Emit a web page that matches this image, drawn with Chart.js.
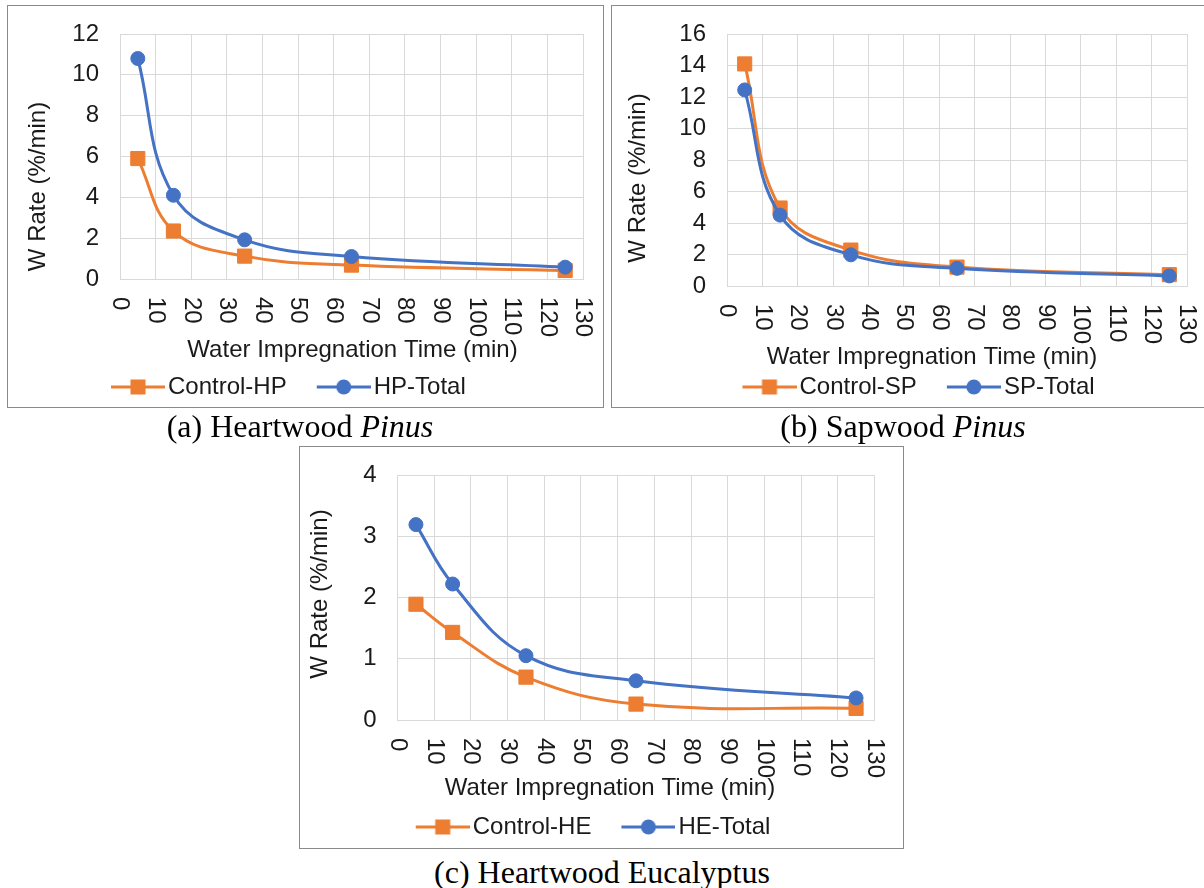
<!DOCTYPE html>
<html><head><meta charset="utf-8">
<script src="https://cdn.jsdelivr.net/npm/chart.js@4.4.1/dist/chart.umd.min.js"></script>
<style>
html,body{margin:0;padding:0;background:#fff;}
body{width:1204px;height:888px;overflow:hidden;position:relative;}
.box{position:absolute;border:1px solid #8a8a8a;box-sizing:border-box;background:#fff;}
.cv{position:absolute;}
.cap{position:absolute;font-family:"Liberation Serif","Times New Roman",serif;font-size:32px;color:#000;text-align:center;white-space:nowrap;line-height:36px;width:600px;}
</style></head><body>

<div class="box" style="left:7px;top:5px;width:597px;height:403px;"></div>
<div class="box" style="left:611px;top:5px;width:700px;height:403px;"></div>
<div class="box" style="left:299px;top:446px;width:605px;height:403px;"></div>

<canvas id="cA" class="cv"></canvas>
<canvas id="cB" class="cv"></canvas>
<canvas id="cC" class="cv"></canvas>

<div class="cap" style="left:0px;top:408px;">(a) Heartwood <i>Pinus</i></div>
<div class="cap" style="left:603px;top:408px;">(b) Sapwood <i>Pinus</i></div>
<div class="cap" style="left:302px;top:854px;">(c) Heartwood Eucalyptus</div>

<script>
// ---------------- data ----------------
const timeMin = [5, 15, 35, 65, 125];

const controlHP = [5.9, 2.35, 1.12, 0.68, 0.42];
const totalHP   = [10.8, 4.1, 1.92, 1.1, 0.58];

const controlSP = [14.1, 4.95, 2.28, 1.2, 0.72];
const totalSP   = [12.45, 4.5, 1.98, 1.12, 0.64];

const controlHE = [1.89, 1.43, 0.70, 0.26, 0.19];
const totalHE   = [3.19, 2.22, 1.05, 0.64, 0.36];

const xTickValues = [0,10,20,30,40,50,60,70,80,90,100,110,120,130];
const yTicksA = [0,2,4,6,8,10,12];
const yTicksB = [0,2,4,6,8,10,12,14,16];
const yTicksC = [0,1,2,3,4];

const labelsA = ['Control-HP', 'HP-Total'];
const labelsB = ['Control-SP', 'SP-Total'];
const labelsC = ['Control-HE', 'HE-Total'];

const xTitle = 'Water Impregnation Time (min)';
const yTitle = 'W Rate (%/min)';

// ---------------- styles ----------------
const ORANGE = '#ED7D31';
const BLUE = '#4472C4';
const TEXT = '#1a1a1a';
const GRID = '#d9d9d9';
const FONT = '"Liberation Sans", Arial, sans-serif';

function legendIcon(color, shape) {
  const W = 65 + 18, H = 20, L = 54;
  const c = document.createElement('canvas');
  c.width = W; c.height = H;
  const g = c.getContext('2d');
  g.strokeStyle = color; g.lineWidth = 3;
  g.beginPath(); g.moveTo(W - L, H/2); g.lineTo(W, H/2); g.stroke();
  g.fillStyle = color;
  const cx = W - L/2;
  if (shape === 'rect') { g.fillRect(cx - 7.5, H/2 - 7.5, 15, 15); }
  else { g.beginPath(); g.arc(cx, H/2, 7.5, 0, Math.PI*2); g.fill(); }
  return c;
}

const customText = {
  id: 'customText',
  afterDraw(chart, args, o) {
    const ctx = chart.ctx, xs = chart.scales.x, ys = chart.scales.y, area = chart.chartArea;
    ctx.save();
    ctx.fillStyle = TEXT;
    ctx.font = '24px ' + FONT;
    ctx.textBaseline = 'middle';
    // x tick labels, rotated clockwise
    ctx.textAlign = 'left';
    xs.ticks.forEach(t => {
      const px = xs.getPixelForValue(t.value);
      ctx.save();
      ctx.translate(px, area.bottom + o.gap);
      ctx.rotate(Math.PI / 2);
      ctx.fillText(String(t.value), 0, 0);
      ctx.restore();
    });
    // y tick labels
    ctx.textAlign = 'right';
    ys.ticks.forEach(t => {
      ctx.fillText(String(t.value), area.left - o.ypad, ys.getPixelForValue(t.value));
    });
    // x title
    ctx.textAlign = 'center';
    ctx.fillText(o.xTitle, (area.left + area.right) / 2 + o.xTitleDx, area.bottom + o.xTitleDy);
    // y title
    ctx.save();
    ctx.translate(o.titleX, (area.top + area.bottom) / 2 + o.titleDy);
    ctx.rotate(-Math.PI / 2);
    ctx.fillText(o.yTitle, 0, 0);
    ctx.restore();
    ctx.restore();
  }
};

function makeChart(id, lay, labels, ctrl, tot, yTicks) {
  const cv = document.getElementById(id);
  cv.width = lay.w; cv.height = lay.h;
  cv.style.left = lay.x + 'px'; cv.style.top = lay.y + 'px';
  cv.style.width = lay.w + 'px'; cv.style.height = lay.h + 'px';
  const yMax = yTicks[yTicks.length - 1];
  const yStep = yTicks[1] - yTicks[0];
  return new Chart(cv.getContext('2d'), {
    type: 'line',
    data: {
      datasets: [
        { label: labels[0], data: timeMin.map((t, i) => ({x: t, y: ctrl[i]})),
          borderColor: ORANGE, backgroundColor: ORANGE, borderWidth: 3,
          pointStyle: 'rect', pointRadius: 10, pointHoverRadius: 10,
          pointBackgroundColor: ORANGE, pointBorderColor: ORANGE, pointBorderWidth: 1,
          tension: 0.4, order: 1, fill: false },
        { label: labels[1], data: timeMin.map((t, i) => ({x: t, y: tot[i]})),
          borderColor: BLUE, backgroundColor: BLUE, borderWidth: 3,
          pointStyle: 'circle', pointRadius: 7, pointHoverRadius: 7,
          pointBackgroundColor: BLUE, pointBorderColor: BLUE, pointBorderWidth: 1,
          tension: 0.4, order: 0, fill: false }
      ]
    },
    options: {
      responsive: false, animation: false, devicePixelRatio: 1,
      layout: { padding: { left: lay.pl, right: lay.pr, top: lay.pt, bottom: 0 } },
      scales: {
        x: {
          type: 'linear', min: xTickValues[0], max: xTickValues[xTickValues.length - 1],
          ticks: { stepSize: xTickValues[1] - xTickValues[0], display: false },
          grid: { color: GRID, lineWidth: 1, drawTicks: false },
          border: { color: GRID, width: 1 },
          title: { display: false },
          afterFit: s => { s.height = lay.xh; }
        },
        y: {
          type: 'linear', min: 0, max: yMax,
          ticks: { stepSize: yStep, display: false },
          grid: { color: GRID, lineWidth: 1, drawTicks: false },
          border: { color: GRID, width: 1 },
          afterFit: s => { s.width = lay.yw; }
        }
      },
      plugins: {
        legend: {
          position: 'bottom', align: 'start',
          labels: {
            usePointStyle: true, pointStyleWidth: 65, padding: 10,
            color: TEXT, font: { family: FONT, size: 24 },
            generateLabels: chart => chart.data.datasets.map((ds, i) => ({
              text: ds.label, datasetIndex: i, hidden: false,
              fillStyle: ds.borderColor, strokeStyle: ds.borderColor, lineWidth: 0,
              fontColor: TEXT,
              pointStyle: legendIcon(ds.borderColor, ds.pointStyle)
            }))
          }
        },
        tooltip: { enabled: false },
        customText: { gap: lay.gap, ypad: 21, titleX: lay.tx, titleDy: lay.tdy, yTitle: yTitle,
                      xTitle: xTitle, xTitleDx: lay.xdx, xTitleDy: lay.xdy }
      }
    },
    plugins: [customText]
  });
}

// layout (canvas-relative px): canvas position/size, paddings, axis sizes, text offsets
const layA = { x: 0,   y: 0,   w: 603, h: 409, pl: 81,    pr: 20,   pt: 34, yw: 39,   xh: 86, gap: 18, tx: 38, tdy: 30,   xdx: 1,   xdy: 71 };
const layB = { x: 600, y: 0,   w: 604, h: 409, pl: 112.5, pr: 17,   pt: 34, yw: 14.5, xh: 79, gap: 18, tx: 38, tdy: 18,   xdx: -25, xdy: 71 };
const layC = { x: 290, y: 440, w: 614, h: 409, pl: 95.7,  pr: 29.6, pt: 35, yw: 11.9, xh: 85, gap: 18, tx: 30, tdy: -3.5, xdx: -26, xdy: 68 };

makeChart('cA', layA, labelsA, controlHP, totalHP, yTicksA);
makeChart('cB', layB, labelsB, controlSP, totalSP, yTicksB);
makeChart('cC', layC, labelsC, controlHE, totalHE, yTicksC);
</script>
</body></html>
